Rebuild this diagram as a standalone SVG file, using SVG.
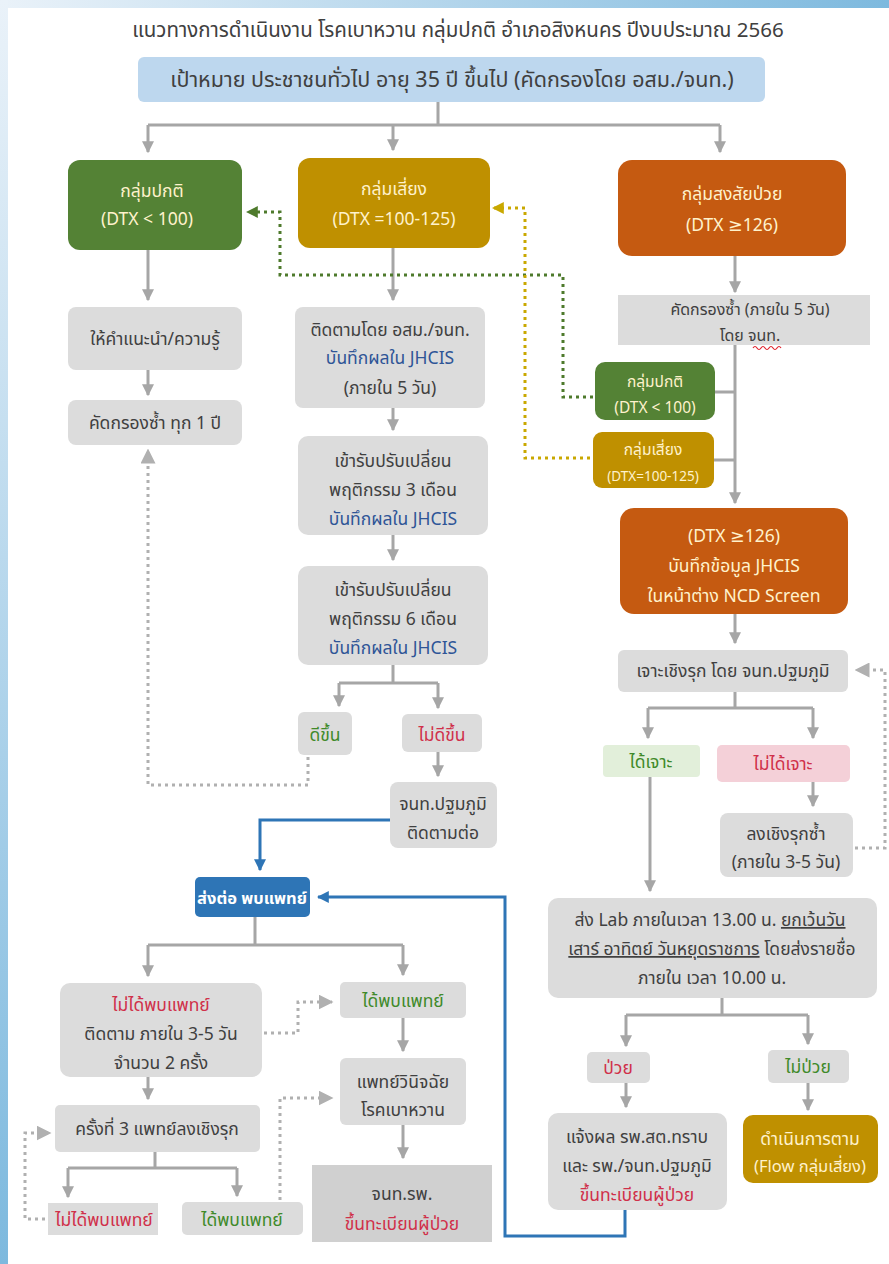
<svg xmlns="http://www.w3.org/2000/svg" width="889" height="1264" viewBox="0 0 889 1264">
<defs>
<linearGradient id="gTop" x1="0" y1="0" x2="1" y2="0"><stop offset="0" stop-color="#eaf2f9"/><stop offset="1" stop-color="#7db9de"/></linearGradient>
<linearGradient id="gLeft" x1="0" y1="0" x2="0" y2="1"><stop offset="0" stop-color="#eaf2f9"/><stop offset="1" stop-color="#7db9de"/></linearGradient>
<marker id="aG" viewBox="0 0 10 10" refX="9" refY="5" markerWidth="4" markerHeight="4" orient="auto"><path d="M0,0 L10,5 L0,10 z" fill="#a6a6a6"/></marker>
<marker id="aB" viewBox="0 0 10 10" refX="9" refY="5" markerWidth="4" markerHeight="4" orient="auto"><path d="M0,0 L10,5 L0,10 z" fill="#2e75b6"/></marker>
<marker id="aDG" viewBox="0 0 10 10" refX="9" refY="5" markerWidth="4" markerHeight="4" orient="auto"><path d="M0,0 L10,5 L0,10 z" fill="#4e7a2c"/></marker>
<marker id="aY" viewBox="0 0 10 10" refX="9" refY="5" markerWidth="4" markerHeight="4" orient="auto"><path d="M0,0 L10,5 L0,10 z" fill="#c9a800"/></marker>
<marker id="aDot" viewBox="0 0 10 10" refX="9" refY="5" markerWidth="5" markerHeight="5" orient="auto"><path d="M0,0 L10,5 L0,10 z" fill="#b0b0b0"/></marker>
</defs>
<style>
text{font-family:"Noto Sans Thai","Noto Sans","DejaVu Sans","Liberation Sans",sans-serif;font-size:17.5px;text-anchor:middle;fill:#404040}
.gray{fill:#dcdcdc}
.dk{fill:#d0d0d0}
.green{fill:#548235}
.gold{fill:#bf9000}
.orange{fill:#c55a11}
.lt{fill:#fff2cc}
.bl{fill:#2f5597}
.gr{fill:#3f8a2a}
.rd{fill:#d0304a}
.sm{font-size:15.5px}
.ln{stroke:#a6a6a6;stroke-width:3;fill:none}
.arr{stroke:#a6a6a6;stroke-width:3;fill:none;marker-end:url(#aG)}
.blu{stroke:#2e75b6;stroke-width:3;fill:none}
.dot{stroke:#b0b0b0;stroke-width:3;fill:none;stroke-dasharray:3 4}
.dotg{stroke:#4e7a2c;stroke-width:3;fill:none;stroke-dasharray:3 4}
.doty{stroke:#c9a800;stroke-width:3;fill:none;stroke-dasharray:3 4}
</style>
<rect width="889" height="1264" fill="#ffffff"/>
<rect x="0" y="0" width="889" height="8" fill="url(#gTop)"/>
<rect x="0" y="0" width="8" height="1264" fill="url(#gLeft)"/>

<text x="458" y="37" style="font-size:20.5px">แนวทางการดำเนินงาน โรคเบาหวาน กลุ่มปกติ อำเภอสิงหนคร ปีงบประมาณ 2566</text>

<g id="connectors">
<path class="ln" d="M438,102 V125 M148,125 H720"/>
<path class="arr" d="M148,125 V152"/>
<path class="arr" d="M393,125 V150"/>
<path class="arr" d="M720,125 V152"/>
<path class="arr" d="M148,250 V300"/>
<path class="arr" d="M148,370 V395"/>
<path class="arr" d="M393,248 V300"/>
<path class="arr" d="M393,408 V430"/>
<path class="arr" d="M393,535 V560"/>
<path class="ln" d="M393,665 V683 M339,683 H438"/>
<path class="arr" d="M339,683 V706"/>
<path class="arr" d="M438,683 V708"/>
<path class="arr" d="M438,752 V776"/>
<path class="dot" d="M308,757 V785 H148 V450" marker-end="url(#aDot)"/>
<path class="blu" d="M390,820 H260 V870" marker-end="url(#aB)"/>
<path class="blu" d="M625,1210 V1236 H505 V897 H318" marker-end="url(#aB)"/>
<path class="ln" d="M255,917 V945 M148,945 H403"/>
<path class="arr" d="M148,945 V976"/>
<path class="arr" d="M403,945 V975"/>
<path class="dot" d="M264,1033 H298 V1002 H332" marker-end="url(#aDot)"/>
<path class="arr" d="M403,1018 V1051"/>
<path class="arr" d="M403,1125 V1158"/>
<path class="arr" d="M148,1077 V1099"/>
<path class="ln" d="M155,1152 V1168 M68,1168 H237"/>
<path class="arr" d="M68,1168 V1197"/>
<path class="arr" d="M237,1168 V1196"/>
<path class="dot" d="M45,1219 H25 V1133 H50" marker-end="url(#aDot)"/>
<path class="dot" d="M280,1200 V1098 H332" marker-end="url(#aDot)"/>
<path class="arr" d="M735,256 V292"/>
<path class="arr" d="M735,345 V503"/>
<path class="ln" d="M715,392 H735 M714,460 H735"/>
<path class="dotg" d="M593,397 H563 V275 H280 V212 H247" marker-end="url(#aDG)"/>
<path class="doty" d="M590,458 H525 V208 H493" marker-end="url(#aY)"/>
<path class="arr" d="M735,614 V643"/>
<path class="ln" d="M735,692 V708 M648,708 H813"/>
<path class="arr" d="M648,708 V738"/>
<path class="arr" d="M813,708 V738"/>
<path class="arr" d="M813,782 V806"/>
<path class="dot" d="M855,848 H885 V670 H856" marker-end="url(#aDot)"/>
<path class="arr" d="M650,777 V891"/>
<path class="ln" d="M722,998 V1015 M626,1015 H808"/>
<path class="arr" d="M626,1015 V1046"/>
<path class="arr" d="M808,1015 V1044"/>
<path class="arr" d="M626,1083 V1107"/>
<path class="arr" d="M808,1083 V1110"/>
</g>

<g id="target">
<rect x="138" y="57" width="627" height="45" rx="6" fill="#bdd7ee"/>
<text x="452" y="87" style="font-size:21.5px">เป้าหมาย ประชาชนทั่วไป อายุ 35 ปี ขึ้นไป (คัดกรองโดย อสม./จนท.)</text>
</g>

<g id="normal">
<rect class="green" x="68" y="160" width="174" height="90" rx="12"/>
<text class="lt" x="152" y="197">กลุ่มปกติ</text>
<text class="lt" x="147" y="225">(DTX &lt; 100)</text>
</g>
<g id="risk">
<rect class="gold" x="298" y="158" width="192" height="90" rx="12"/>
<text class="lt" x="394" y="195">กลุ่มเสี่ยง</text>
<text class="lt" x="394" y="225">(DTX =100-125)</text>
</g>
<g id="suspect">
<rect class="orange" x="618" y="160" width="228" height="96" rx="14"/>
<text class="lt" x="732" y="200">กลุ่มสงสัยป่วย</text>
<text class="lt" x="732" y="231">(DTX ≥126)</text>
</g>

<g id="advice">
<rect class="gray" x="68" y="307" width="174" height="63" rx="8"/>
<text x="155" y="345">ให้คำแนะนำ/ความรู้</text>
</g>
<g id="rescreen1y">
<rect class="gray" x="68" y="400" width="174" height="45" rx="8"/>
<text x="155" y="429">คัดกรองซ้ำ ทุก 1 ปี</text>
</g>

<g id="follow">
<rect class="gray" x="295" y="307" width="190" height="101" rx="8"/>
<text x="390" y="336">ติดตามโดย อสม./จนท.</text>
<text class="bl" x="390" y="364">บันทึกผลใน JHCIS</text>
<text x="390" y="394">(ภายใน 5 วัน)</text>
</g>
<g id="behav3">
<rect class="gray" x="298" y="436" width="190" height="99" rx="10"/>
<text x="393" y="467">เข้ารับปรับเปลี่ยน</text>
<text x="393" y="496">พฤติกรรม 3 เดือน</text>
<text class="bl" x="393" y="525">บันทึกผลใน JHCIS</text>
</g>
<g id="behav6">
<rect class="gray" x="298" y="566" width="190" height="99" rx="10"/>
<text x="393" y="596">เข้ารับปรับเปลี่ยน</text>
<text x="393" y="625">พฤติกรรม 6 เดือน</text>
<text class="bl" x="393" y="654">บันทึกผลใน JHCIS</text>
</g>
<g id="better">
<rect class="gray" x="298" y="712" width="54" height="43" rx="6"/>
<text class="gr" x="325" y="741">ดีขึ้น</text>
</g>
<g id="notbetter">
<rect class="gray" x="402" y="714" width="80" height="38" rx="6"/>
<text class="rd" x="442" y="741">ไม่ดีขึ้น</text>
</g>
<g id="primaryfollow">
<rect class="gray" x="390" y="782" width="107" height="66" rx="8"/>
<text x="443" y="810">จนท.ปฐมภูมิ</text>
<text x="443" y="839">ติดตามต่อ</text>
</g>

<g id="refer">
<rect x="195" y="877" width="115" height="40" rx="5" fill="#2e75b6"/>
<text x="252" y="904" style="fill:#ffffff;font-weight:bold;font-size:16.5px">ส่งต่อ พบแพทย์</text>
</g>
<g id="notmet">
<rect class="gray" x="60" y="983" width="202" height="94" rx="10"/>
<text class="rd" x="161" y="1011">ไม่ได้พบแพทย์</text>
<text x="161" y="1040">ติดตาม ภายใน 3-5 วัน</text>
<text x="161" y="1069">จำนวน 2 ครั้ง</text>
</g>
<g id="met1">
<rect class="gray" x="340" y="982" width="126" height="36" rx="5"/>
<text class="gr" x="403" y="1007">ได้พบแพทย์</text>
</g>
<g id="diag">
<rect class="gray" x="340" y="1058" width="126" height="67" rx="6"/>
<text x="403" y="1088">แพทย์วินิจฉัย</text>
<text x="403" y="1116">โรคเบาหวาน</text>
</g>
<g id="register">
<rect class="dk" x="312" y="1165" width="180" height="77"/>
<text x="402" y="1200">จนท.รพ.</text>
<text class="rd" x="402" y="1230">ขึ้นทะเบียนผู้ป่วย</text>
</g>
<g id="third">
<rect class="gray" x="55" y="1105" width="205" height="47" rx="5"/>
<text x="157" y="1135">ครั้งที่ 3 แพทย์ลงเชิงรุก</text>
</g>
<g id="notmet2">
<rect class="gray" x="48" y="1203" width="110" height="32"/>
<text class="rd" x="104" y="1226">ไม่ได้พบแพทย์</text>
</g>
<g id="met2">
<rect class="gray" x="182" y="1202" width="121" height="33" rx="5"/>
<text class="gr" x="242" y="1226">ได้พบแพทย์</text>
</g>

<g id="rescreen5d">
<rect class="gray" x="618" y="295" width="252" height="50"/>
<text x="750" y="315" style="font-size:16px">คัดกรองซ้ำ (ภายใน 5 วัน)</text>
<text x="750" y="341" style="font-size:16px">โดย จนท.</text>
<path d="M753,348 q2,-3 4,0 t4,0 t4,0 t4,0 t4,0 t4,0 t4,0" stroke="#e0202a" stroke-width="1.2" fill="none"/>
</g>
<g id="smallnormal">
<rect class="green" x="595" y="362" width="120" height="58" rx="10"/>
<text class="lt sm" x="655" y="387">กลุ่มปกติ</text>
<text class="lt sm" x="655" y="413">(DTX &lt; 100)</text>
</g>
<g id="smallrisk">
<rect class="gold" x="593" y="432" width="121" height="56" rx="9"/>
<text class="lt sm" x="653" y="455">กลุ่มเสี่ยง</text>
<text class="lt" x="653" y="481" style="font-size:13.5px">(DTX=100-125)</text>
</g>
<g id="record">
<rect class="orange" x="620" y="508" width="228" height="106" rx="14"/>
<text class="lt" x="734" y="542">(DTX ≥126)</text>
<text class="lt" x="734" y="572">บันทึกข้อมูล JHCIS</text>
<text class="lt" x="734" y="602">ในหน้าต่าง NCD Screen</text>
</g>
<g id="draw">
<rect class="gray" x="618" y="650" width="230" height="42" rx="6"/>
<text x="733" y="677">เจาะเชิงรุก โดย จนท.ปฐมภูมิ</text>
</g>
<g id="drawn">
<rect x="603" y="745" width="97" height="32" rx="4" fill="#e2efda"/>
<text class="gr" x="651" y="768">ได้เจาะ</text>
</g>
<g id="notdrawn">
<rect x="717" y="745" width="133" height="37" rx="5" fill="#f4d0d8"/>
<text class="rd" x="783" y="770">ไม่ได้เจาะ</text>
</g>
<g id="redraw">
<rect class="gray" x="720" y="813" width="133" height="64" rx="8"/>
<text x="786" y="840">ลงเชิงรุกซ้ำ</text>
<text x="786" y="868">(ภายใน 3-5 วัน)</text>
</g>
<g id="lab">
<rect class="gray" x="548" y="898" width="329" height="100" rx="10"/>
<text x="710" y="926">ส่ง Lab ภายในเวลา 13.00 น. <tspan text-decoration="underline">ยกเว้นวัน</tspan></text>
<text x="712" y="955"><tspan text-decoration="underline">เสาร์ อาทิตย์ วันหยุดราชการ</tspan> โดยส่งรายชื่อ</text>
<text x="712" y="984">ภายใน เวลา 10.00 น.</text>
</g>
<g id="sick">
<rect class="gray" x="587" y="1052" width="63" height="31" rx="5"/>
<text class="rd" x="618" y="1074">ป่วย</text>
</g>
<g id="notsick">
<rect class="gray" x="768" y="1050" width="81" height="33" rx="5"/>
<text class="gr" x="808" y="1073">ไม่ป่วย</text>
</g>
<g id="notify">
<rect class="gray" x="548" y="1113" width="179" height="97" rx="10"/>
<text x="637" y="1143">แจ้งผล รพ.สต.ทราบ</text>
<text x="637" y="1172">และ รพ./จนท.ปฐมภูมิ</text>
<text class="rd" x="637" y="1201">ขึ้นทะเบียนผู้ป่วย</text>
</g>
<g id="flowrisk">
<rect class="gold" x="743" y="1115" width="135" height="68" rx="10"/>
<text class="lt" x="810" y="1145">ดำเนินการตาม</text>
<text class="lt" x="810" y="1172" style="font-size:16.5px">(Flow กลุ่มเสี่ยง)</text>
</g>
</svg>
